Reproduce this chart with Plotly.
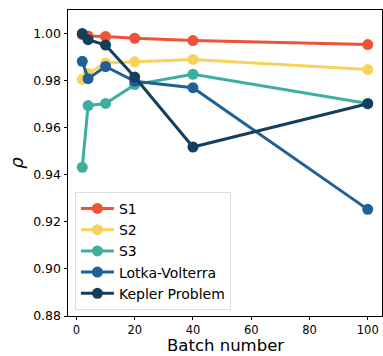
import plotly.graph_objects as go

batch = [2, 4, 10, 20, 40, 100]
s1 = [0.9995, 0.999, 0.9987, 0.998, 0.997, 0.9953]
s2 = [0.9805, 0.983, 0.9875, 0.988, 0.989, 0.9847]
s3 = [0.9432, 0.9694, 0.9703, 0.9783, 0.9827, 0.9703]
lotka = [0.9882, 0.9808, 0.9860, 0.9797, 0.9770, 0.9253]
kepler = [1.0000, 0.9974, 0.9951, 0.9815, 0.9518, 0.9702]

names = ["S1", "S2", "S3", "Lotka-Volterra", "Kepler Problem"]
colors = ["#EE5336", "#F6D35C", "#3EAF9F", "#1F6097", "#153E5D"]
series = [s1, s2, s3, lotka, kepler]

fig = go.Figure()
for n, c, s in zip(names, colors, series):
    fig.add_trace(go.Scatter(
        x=batch, y=s, name=n, mode="lines+markers",
        line=dict(color=c, width=3),
        marker=dict(color=c, size=11),
    ))

font = "DejaVu Sans"
fig.update_layout(
    width=383, height=356,
    margin=dict(l=68, r=1, t=10, b=40),
    plot_bgcolor="white", paper_bgcolor="white",
    font=dict(family=font, size=12, color="black"),
    showlegend=True,
    legend=dict(
        x=0.022, y=0.02, xanchor="left", yanchor="bottom",
        bgcolor="rgba(255,255,255,0.8)", bordercolor="#dddddd", borderwidth=1,
        font=dict(family=font, size=14), itemwidth=33,
        tracegroupgap=0,
    ),
    xaxis=dict(
        range=[-2.9, 104.9], tickvals=[0, 20, 40, 60, 80, 100],
        showgrid=False, zeroline=False,
        showline=True, linecolor="black", linewidth=1, mirror=True,
        ticks="outside", ticklen=3, tickcolor="black",
        tickfont=dict(size=11.5),
    ),
    yaxis=dict(
        range=[0.88, 1.01],
        tickvals=[0.88, 0.90, 0.92, 0.94, 0.96, 0.98, 1.00],
        tickformat=".2f",
        showgrid=False, zeroline=False,
        showline=True, linecolor="black", linewidth=1, mirror=True,
        ticks="outside", ticklen=3.5, tickcolor="black",
        tickfont=dict(size=12.5),
        title=dict(text="<i>ρ</i>", font=dict(size=18), standoff=4),
    ),
    annotations=[dict(
        text="Batch number", xref="paper", yref="paper",
        x=0.5, y=-40 / 306, xanchor="center", yanchor="bottom",
        showarrow=False, font=dict(size=16.5), borderpad=0,
    )],
)

fig.write_html("out.html")
